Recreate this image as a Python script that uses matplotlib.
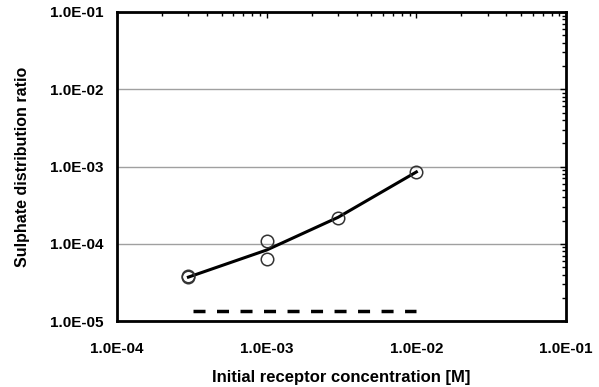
import numpy as np
import matplotlib
matplotlib.use('Agg')
import matplotlib.pyplot as plt
from matplotlib.ticker import FuncFormatter, LogLocator

plt.rcParams['font.family'] = ['Liberation Sans', 'DejaVu Sans']

# measured points
x_pts = [3e-4, 3e-4, 1e-3, 1e-3, 3e-3, 1e-2]
y_pts = [3.7e-5, 3.8e-5, 1.09e-4, 6.4e-5, 2.16e-4, 8.5e-4]

# model curve
x_fit = [3e-4, 1e-3, 3e-3, 1e-2]
y_fit = [3.7e-5, 8.3e-5, 2.2e-4, 8.5e-4]

# blank level (dashed)
x_blank = [3.2e-4, 1e-2]
y_blank = [1.35e-5, 1.35e-5]

fig = plt.figure(figsize=(5.99, 3.87), dpi=100)
ax = fig.add_axes([0.1953, 0.1705, 0.7497, 0.7985])

ax.set_xscale('log')
ax.set_yscale('log')
ax.set_xlim(1e-4, 1e-1)
ax.set_ylim(1e-5, 1e-1)

ax.yaxis.grid(True, which='major', color='#a0a0a0', lw=1)
ax.set_axisbelow(True)

ax.plot(x_fit, y_fit, color='black', lw=2.2, zorder=3)
ax.plot(x_blank, y_blank, color='black', lw=2.5, dashes=(3.46, 3.31), zorder=3)
ax.plot(x_pts, y_pts, 'o', ms=9, mfc='none', mec='#333333', mew=1.1, zorder=4)

fmt = FuncFormatter(lambda v, p: '%.1fE-%02d' % (1.0, -int(round(np.log10(v)))))
ax.xaxis.set_major_formatter(fmt)
ax.yaxis.set_major_formatter(fmt)
ax.xaxis.set_major_locator(LogLocator(base=10, numticks=10))
ax.yaxis.set_major_locator(LogLocator(base=10, numticks=10))

ax.tick_params(which='both', direction='in', bottom=False, left=False, top=True, right=True,
               labelbottom=True, labelleft=True, labelsize=11, pad=15)
ax.tick_params(which='major', length=4, width=1)
ax.tick_params(which='minor', length=3, width=1)
ax.tick_params(axis='y', which='both', pad=10)
for lab in ax.get_xticklabels() + ax.get_yticklabels():
    lab.set_fontweight('bold')

for s in ax.spines.values():
    s.set_linewidth(2)
    s.set_color('black')

ax.set_xlabel('Initial receptor concentration [M]', fontsize=12, fontweight='bold', labelpad=10)
ax.set_ylabel('Sulphate distribution ratio', fontsize=11.5, fontweight='bold', labelpad=14)

fig.savefig('out.png', dpi=100)
